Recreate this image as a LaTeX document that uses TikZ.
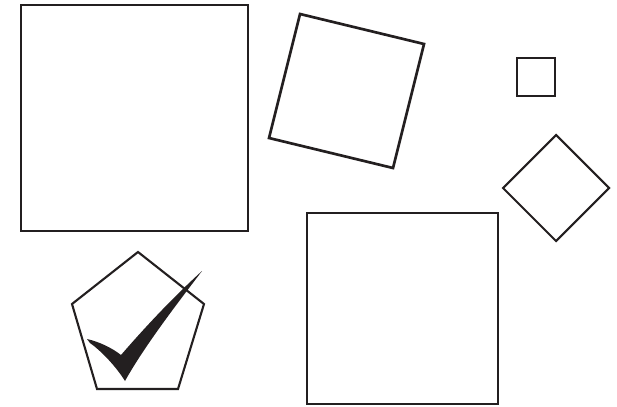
\documentclass[tikz,border=0pt]{standalone}
\definecolor{inkgray}{HTML}{231F20}
\tikzset{
  heavy/.style={draw=inkgray,line width=2.1pt},
  light/.style={draw=inkgray,line width=1.5pt},
}
\begin{document}
\begin{tikzpicture}[x=0.25mm,y=-0.25mm]
\useasboundingbox (0,0) rectangle (617,406);
\draw[heavy] (21,5) rectangle (248,231);
\draw[heavy,line width=1.9pt] (300,14)--(424,44)--(393,168)--(269,138)--cycle;
\draw[heavy,line width=1.9pt] (517,58) rectangle (555,96);
\draw[light] (556,135)--(609,188)--(556,241)--(503,188)--cycle;
\draw[heavy] (307,213) rectangle (498,404);
% pentagon with tick
\draw[light] (138,252)--(204,304)--(178,389)--(97,389)--(72,304)--cycle;
\fill[inkgray] (87,339) .. controls (100,342) and (112,348) .. (121,355)
  .. controls (140,333) and (170,300) .. (202,271)
  .. controls (180,300) and (145,345) .. (125,381)
  .. controls (115,365) and (100,350) .. (90,343) -- cycle;
\end{tikzpicture}
\end{document}
